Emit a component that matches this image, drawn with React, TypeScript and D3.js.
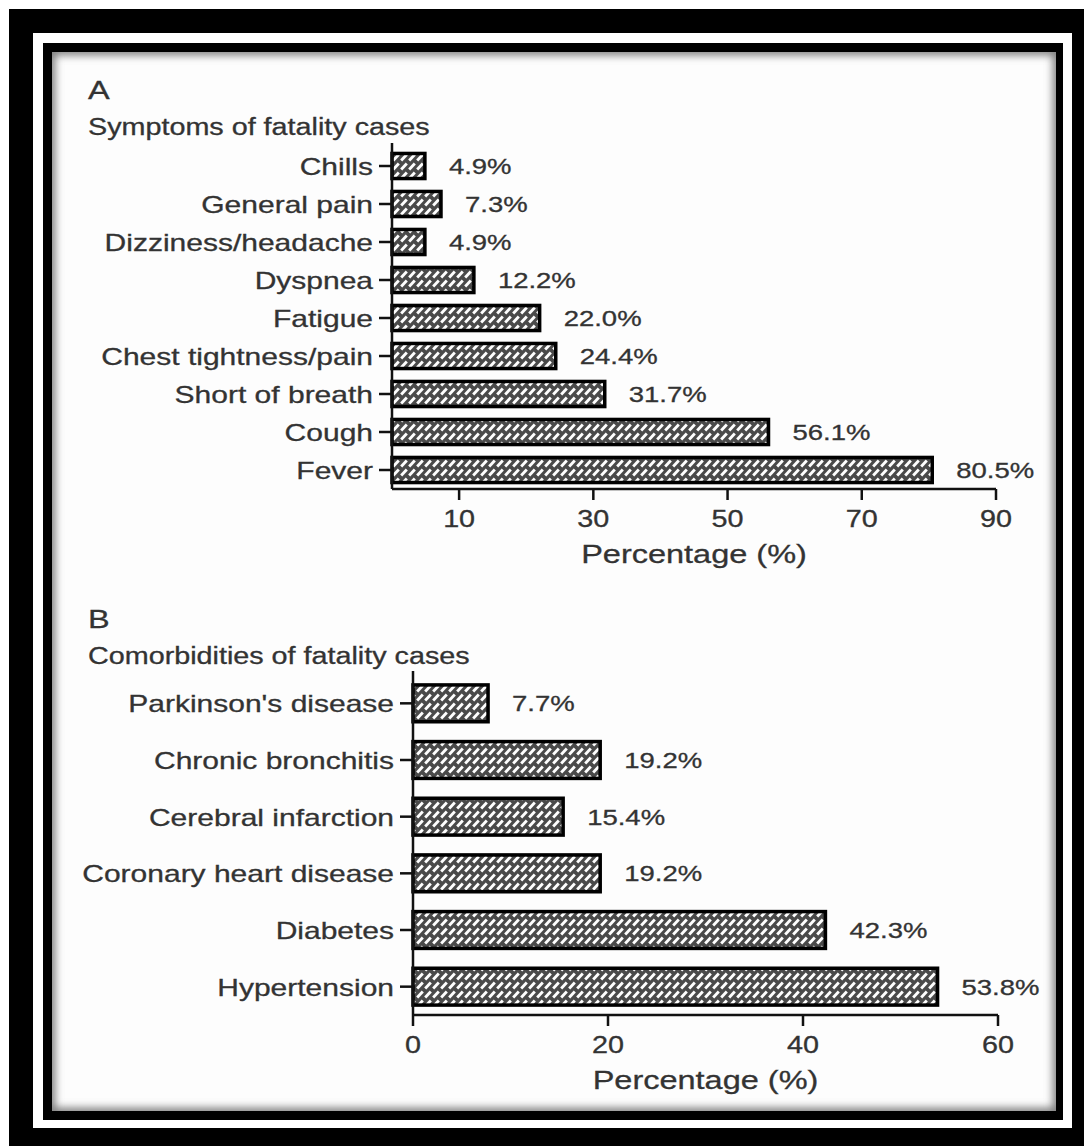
import React from "react";
import * as d3 from "d3";

// ── data ──────────────────────────────────────────────
const symptomLabels = [
  "Chills",
  "General pain",
  "Dizziness/headache",
  "Dyspnea",
  "Fatigue",
  "Chest tightness/pain",
  "Short of breath",
  "Cough",
  "Fever",
];
const symptomValues = [4.9, 7.3, 4.9, 12.2, 22.0, 24.4, 31.7, 56.1, 80.5];
const symptomTicks = [10, 30, 50, 70, 90];

const comorbLabels = [
  "Parkinson's disease",
  "Chronic bronchitis",
  "Cerebral infarction",
  "Coronary heart disease",
  "Diabetes",
  "Hypertension",
];
const comorbValues = [7.7, 19.2, 15.4, 19.2, 42.3, 53.8];
const comorbTicks = [0, 20, 40, 60];

const W = 1084;
const H = 1146;
const FONT = '"Liberation Sans", Arial, Helvetica, sans-serif';
const SX = 1.25; // text in the source is stretched horizontally
const INK = "#333";

const T = ({ x, y, size, anchor = "start", children }) => (
  <text
    transform={`translate(${x},${y}) scale(${SX},1)`}
    fontSize={size}
    textAnchor={anchor}
    fill={INK}
    stroke={INK}
    strokeWidth={0.3}
    fontFamily={FONT}
  >
    {children}
  </text>
);

const Panel = ({ letter, subtitle, labels, values, ticks, xMax, x0, x1, y0, y1, pad, textTop }) => {
  const x = d3.scaleLinear().domain([0, xMax]).range([x0, x1]);
  const y = d3
    .scaleBand()
    .domain(labels)
    .range([y0, y1])
    .paddingInner(pad)
    .paddingOuter(pad / 2);
  const lastTick = ticks[ticks.length - 1];

  return (
    <g>
      <T x={88} y={textTop} size={26}>{letter}</T>
      <T x={88} y={textTop + 36} size={23}>{subtitle}</T>

      {/* bars */}
      {labels.map((l, i) => (
        <g key={l}>
          <rect
            x={x(0)}
            y={y(l)}
            width={x(values[i]) - x(0)}
            height={y.bandwidth()}
            fill="url(#hatch)"
            stroke="#000"
            strokeWidth={3.5}
          />
          <T x={x(values[i]) + 24} y={y(l) + y.bandwidth() / 2 + 8} size={22}>
            {values[i].toFixed(1) + "%"}
          </T>
          <line
            x1={x0 - 13}
            x2={x0}
            y1={y(l) + y.bandwidth() / 2}
            y2={y(l) + y.bandwidth() / 2}
            stroke="#111"
            strokeWidth={2.5}
          />
          <T x={x0 - 19} y={y(l) + y.bandwidth() / 2 + 9} size={24} anchor="end">
            {l}
          </T>
        </g>
      ))}

      {/* axes */}
      <line x1={x0} x2={x0} y1={y0 - 4} y2={y1} stroke="#111" strokeWidth={2.5} />
      <line x1={x0} x2={x(lastTick)} y1={y1} y2={y1} stroke="#111" strokeWidth={2.5} />
      {ticks.map((t) => (
        <g key={t}>
          <line x1={x(t)} x2={x(t)} y1={y1} y2={y1 + 11} stroke="#111" strokeWidth={2.5} />
          <T x={x(t)} y={y1 + 38} size={23} anchor="middle">{t}</T>
        </g>
      ))}
      <T x={(x(0) + x(lastTick)) / 2} y={y1 + 74} size={26} anchor="middle">
        Percentage (%)
      </T>
    </g>
  );
};

export default function App() {
  return (
    <svg
      width={W}
      height={H}
      viewBox={`0 0 ${W} ${H}`}
      style={{ position: "absolute", left: 0, top: 0, display: "block" }}
    >
      <defs>
        <pattern id="hatch" width={8} height={9} patternUnits="userSpaceOnUse">
          <rect width={8} height={9} fill="#4a4a4a" />
          <line x1={1.2} y1={7.4} x2={6.8} y2={1.6} stroke="#fff" strokeWidth={2.9} />
        </pattern>
        <clipPath id="content">
          <rect x={52} y={52} width={1004} height={1059} />
        </clipPath>
        <filter id="soft" x="-5%" y="-5%" width="110%" height="110%">
          <feGaussianBlur stdDeviation={4} />
        </filter>
      </defs>

      {/* frame */}
      <rect width={W} height={H} fill="#fff" />
      <rect x={9} y={9} width={W - 9} height={H - 9} fill="#000" />
      <rect x={33} y={33} width={1039} height={1095} fill="#fff" />
      <rect x={43} y={43} width={1020} height={1077} fill="#000" />
      <rect x={52} y={52} width={1004} height={1059} fill="#fdfdfd" />
      <g clipPath="url(#content)">
        <rect
          x={50}
          y={50}
          width={1008}
          height={1063}
          fill="none"
          stroke="#777"
          strokeWidth={10}
          filter="url(#soft)"
        />
      </g>

      <Panel
        letter="A"
        subtitle="Symptoms of fatality cases"
        labels={symptomLabels}
        values={symptomValues}
        ticks={symptomTicks}
        xMax={90}
        x0={392}
        x1={996}
        y0={147}
        y1={489}
        pad={0.34}
        textTop={99}
      />
      <Panel
        letter="B"
        subtitle="Comorbidities of fatality cases"
        labels={comorbLabels}
        values={comorbValues}
        ticks={comorbTicks}
        xMax={60}
        x0={413}
        x1={998}
        y0={675}
        y1={1015}
        pad={0.35}
        textTop={628}
      />
    </svg>
  );
}
